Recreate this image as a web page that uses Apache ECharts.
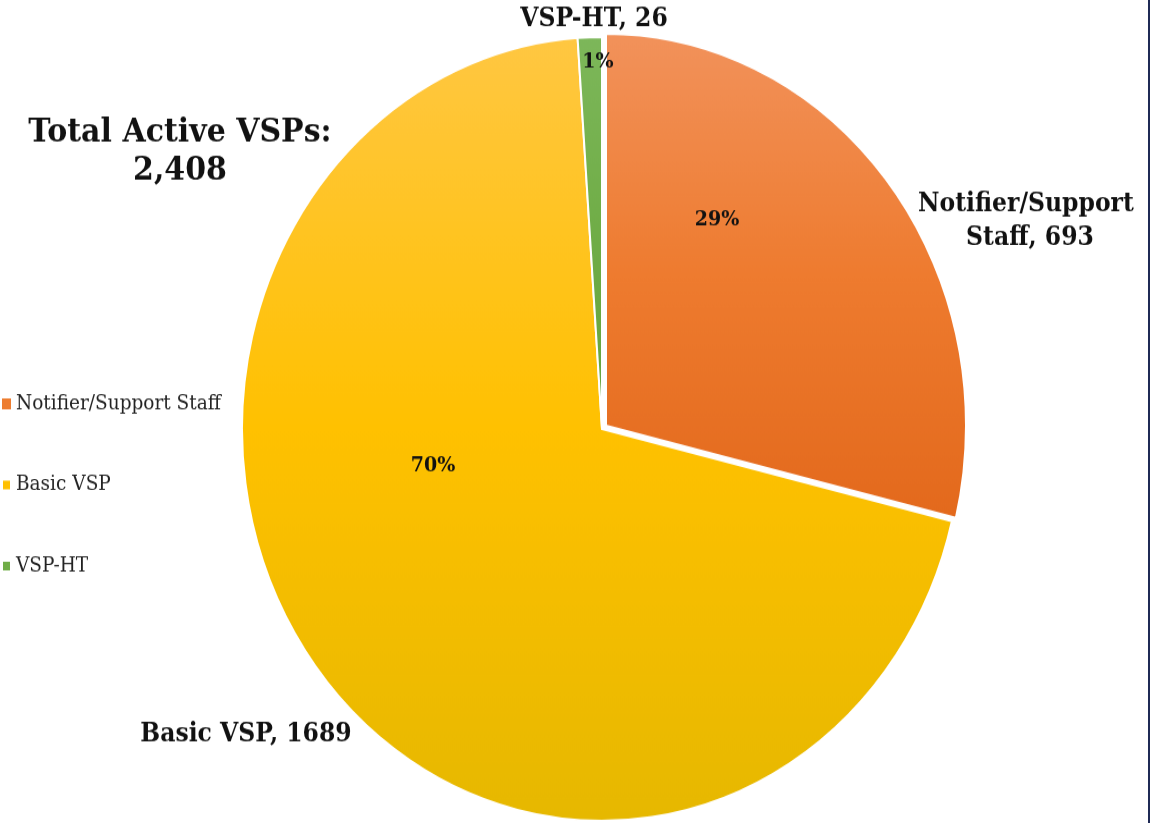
<!DOCTYPE html>
<html>
<head>
<meta charset="utf-8">
<script src="https://cdn.jsdelivr.net/npm/echarts@6/dist/echarts.min.js"></script>
<style>
  html, body { margin: 0; padding: 0; background: #fff; overflow: hidden; }
  #wrap { width: 1150px; height: 823px; overflow: hidden; }
  /* the source picture is stretched vertically, so the whole chart is too */
  #chart { width: 1150px; height: 756px; transform: scaleY(1.0886); transform-origin: 0 0; }
</style>
</head>
<body>
<div id="wrap"><div id="chart"></div></div>
<script>
// data
const categories = ['Notifier/Support Staff', 'Basic VSP', 'VSP-HT'];
const counts = [693, 1689, 26];
const totalText = 'Total Active VSPs:\n2,408';

// where the labels sit (unstretched px)
const pctPos = [[717, 202], [433, 428], [598, 57]];
const namePos = [[1030, 203], [246, 675], [594, 18]];

const grad = (a, b, c) => new echarts.graphic.LinearGradient(0, 0, 0, 1, [
    { offset: 0, color: a }, { offset: 0.5, color: b }, { offset: 1, color: c }
]);
const colors = [
    grad('#F2925B', '#EE7B2F', '#E3691C'),
    grad('#FFC742', '#FFC100', '#E6B800'),
    grad('#7DB75A', '#70AD47', '#66A33E')
];
const legendColors = ['#ED7D31', '#FFC000', '#70AD47'];

const serif = 'DejaVu Serif';
const center = [602, 394];
const explodedCenter = [606, 391]; // orange slice pulled out a little

const chart = echarts.init(document.getElementById('chart'));

chart.setOption({
    animation: false,
    color: legendColors,
    title: {
        text: totalText,
        left: 175,
        top: 100,
        textAlign: 'center',
        textStyle: { fontFamily: serif, fontWeight: 'bold', fontSize: 30, lineHeight: 35, color: '#111' }
    },
    legend: {
        orient: 'vertical',
        left: 1,
        top: 361,
        padding: 0,
        itemWidth: 9,
        itemHeight: 10,
        itemGap: 54.5,
        icon: 'rect',
        selectedMode: false,
        data: categories.map((n, i) => ({ name: n, itemStyle: { color: legendColors[i] } })),
        textStyle: { fontFamily: serif, fontSize: 18.5, lineHeight: 20, color: '#222' }
    },
    graphic: [{
        type: 'rect',
        shape: { x: 1148, y: 0, width: 2, height: 756 },
        style: { fill: '#1F2A55' }
    }],
    series: [{
        // yellow + green slices and the percentages
        type: 'pie',
        center: center,
        radius: 360,
        startAngle: 90,
        percentPrecision: 0,
        itemStyle: { borderColor: '#fff', borderWidth: 2 },
        label: {
            position: 'inside',
            formatter: '{d}%',
            fontFamily: serif,
            fontWeight: 'bold',
            fontSize: 19,
            color: '#111'
        },
        labelLayout: function (p) {
            const q = pctPos[p.dataIndex];
            return { x: q[0], y: q[1], align: 'center', verticalAlign: 'middle' };
        },
        emphasis: { disabled: true },
        z: 2,
        data: categories.map((n, i) => ({
            name: n,
            value: counts[i],
            itemStyle: i === 0 ? { color: 'transparent', borderWidth: 0 } : { color: colors[i] }
        }))
    }, {
        // exploded orange slice and the name labels
        type: 'pie',
        center: explodedCenter,
        radius: 360,
        startAngle: 90,
        itemStyle: { borderColor: '#fff', borderWidth: 2 },
        labelLine: { show: false },
        label: {
            position: 'outside',
            formatter: '{b}, {c}',
            width: 260,
            overflow: 'break',
            align: 'center',
            lineHeight: 31,
            fontFamily: serif,
            fontWeight: 'bold',
            fontSize: 23.5,
            color: '#111'
        },
        labelLayout: function (p) {
            const q = namePos[p.dataIndex];
            return { x: q[0], y: q[1], align: 'center', verticalAlign: 'middle' };
        },
        emphasis: { disabled: true },
        z: 1,
        data: categories.map((n, i) => ({
            name: n,
            value: counts[i],
            itemStyle: i === 0 ? { color: colors[0] } : { color: 'transparent', borderWidth: 0 }
        }))
    }]
});
</script>
</body>
</html>
